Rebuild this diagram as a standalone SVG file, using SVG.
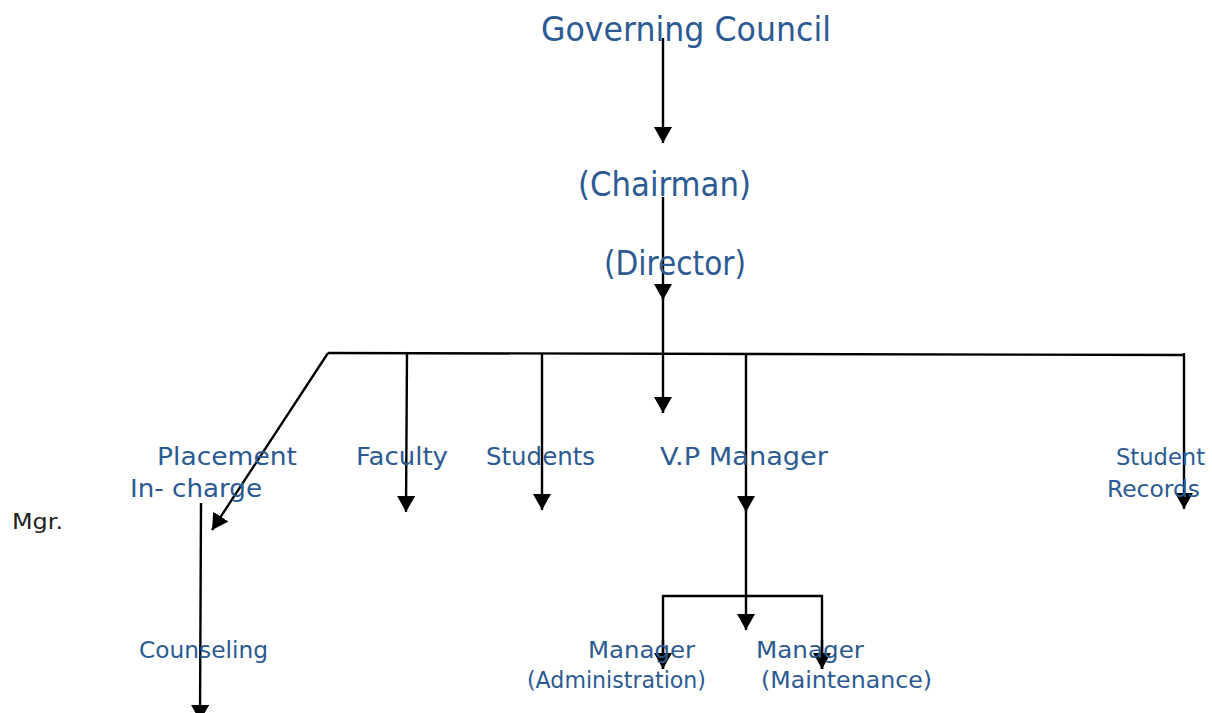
<svg xmlns="http://www.w3.org/2000/svg" width="1212" height="713" viewBox="0 0 1212 713">
<style>
.t{font-family:"DejaVu Sans","Liberation Sans",sans-serif;fill:#2C5A92}
.c{stroke:#000;stroke-width:2.4;fill:none}
.a{marker-end:url(#ah)}
</style>
<defs>
<marker id="ah" markerWidth="17" markerHeight="18" refX="16" refY="9" orient="auto" markerUnits="userSpaceOnUse">
<path d="M0,0 L16,9 L0,18 z" fill="#000"/>
</marker>
</defs>
<rect width="1212" height="713" fill="#fff"/>
<g id="connectors">
<path class="c a" d="M663,38 V143"/>
<path class="c a" d="M663,197 V300"/>
<path class="c a" d="M663,298 V413"/>
<path class="c" d="M328,353 L1184,355"/>
<path class="c a" d="M328,353 L212,530"/>
<path class="c a" d="M407,353 L406,512"/>
<path class="c a" d="M542,354 V510"/>
<path class="c a" d="M746,355 V512"/>
<path class="c a" d="M746,508 V630"/>
<path class="c" d="M663,669 V596 H822 V669"/>
<path class="c a" d="M663,640 V669"/>
<path class="c a" d="M822,640 V669"/>
<path class="c a" d="M1184,353 V509"/>
<path class="c a" d="M201,503 L200,721"/>
</g>
<g id="governing-council"><text class="t" x="541" y="41" font-size="33" textLength="290" lengthAdjust="spacingAndGlyphs">Governing Council</text></g>
<g id="chairman"><text class="t" x="578" y="196" font-size="33" textLength="173" lengthAdjust="spacingAndGlyphs">(Chairman)</text></g>
<g id="director"><text class="t" x="604" y="275" font-size="33" textLength="142" lengthAdjust="spacingAndGlyphs">(Director)</text></g>
<g id="placement">
<text class="t" x="157" y="465" font-size="25.5" textLength="140" lengthAdjust="spacingAndGlyphs">Placement</text>
<text class="t" x="130" y="497" font-size="25.5" textLength="132" lengthAdjust="spacingAndGlyphs">In- charge</text>
</g>
<g id="mgr"><text x="12" y="529" font-family="DejaVu Sans,Liberation Sans,sans-serif" font-size="21" fill="#222" textLength="51" lengthAdjust="spacingAndGlyphs">Mgr.</text></g>
<g id="faculty"><text class="t" x="356" y="465" font-size="25.5" textLength="92" lengthAdjust="spacingAndGlyphs">Faculty</text></g>
<g id="students"><text class="t" x="486" y="465" font-size="25.5" textLength="109" lengthAdjust="spacingAndGlyphs">Students</text></g>
<g id="vp-manager"><text class="t" x="660" y="465" font-size="25.5" textLength="168" lengthAdjust="spacingAndGlyphs">V.P Manager</text></g>
<g id="student-records">
<text class="t" x="1116" y="465" font-size="23.5" textLength="89" lengthAdjust="spacingAndGlyphs">Student</text>
<text class="t" x="1107" y="497" font-size="23.5" textLength="93" lengthAdjust="spacingAndGlyphs">Records</text>
</g>
<g id="counseling"><text class="t" x="139" y="658" font-size="23.5" textLength="129" lengthAdjust="spacingAndGlyphs">Counseling</text></g>
<g id="manager-admin">
<text class="t" x="588" y="658" font-size="23.5" textLength="107" lengthAdjust="spacingAndGlyphs">Manager</text>
<text class="t" x="527" y="688" font-size="23.5" textLength="179" lengthAdjust="spacingAndGlyphs">(Administration)</text>
</g>
<g id="manager-maint">
<text class="t" x="756" y="658" font-size="23.5" textLength="108" lengthAdjust="spacingAndGlyphs">Manager</text>
<text class="t" x="761" y="688" font-size="23.5" textLength="171" lengthAdjust="spacingAndGlyphs">(Maintenance)</text>
</g>
</svg>
